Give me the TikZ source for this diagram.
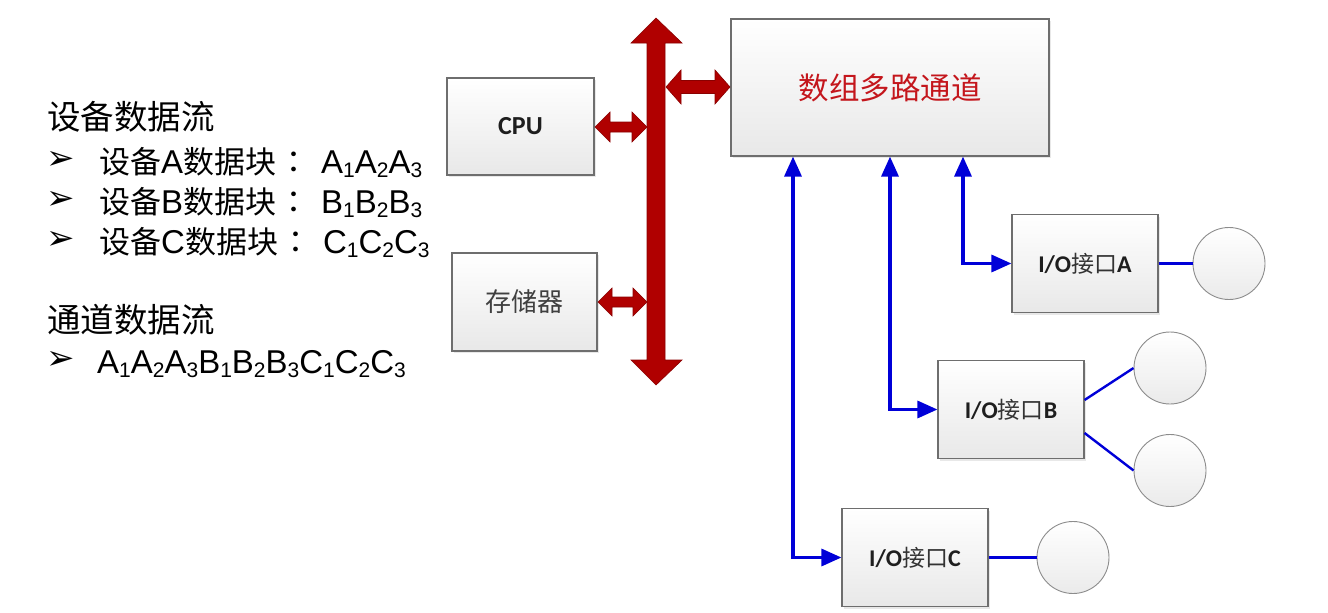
\documentclass[tikz,border=0pt]{standalone}
\usepackage{fontspec}
\setmainfont{Liberation Sans}
\newfontfamily\cjkf{Noto Sans CJK SC}
\newfontfamily\cjktc{Noto Sans CJK TC}
\newfontfamily\dvf{DejaVu Sans}
\newfontfamily\calf{Carlito}
\usetikzlibrary{arrows.meta,calc,shadows}
\definecolor{busred}{HTML}{B00000}
\definecolor{busedge}{HTML}{8A0000}
\definecolor{bblue}{HTML}{0000D8}
\definecolor{chred}{HTML}{C4161C}
\definecolor{boxedge}{HTML}{6E6E6E}
\definecolor{lbl}{HTML}{1E1E1E}
\newcommand\sbs[1]{\raisebox{-4pt}{\fontsize{21}{21}\selectfont #1}}
\newcommand\zh[1]{{\cjkf\fontsize{31}{31}\selectfont #1}}
\newcommand\colonsp{\makebox[36pt][c]{\cjktc\fontsize{31}{31}\selectfont ：}\hspace*{9pt}}
\newcommand\hdarrow[6]{% x1 x2 y shafthalf headhalf headlen
  \fill[busred,draw=busedge,line width=0.6pt]
    (#1,#3) -- (#1+#6,#3-#5) -- (#1+#6,#3-#4) -- (#2-#6,#3-#4) -- (#2-#6,#3-#5)
    -- (#2,#3) -- (#2-#6,#3+#5) -- (#2-#6,#3+#4) -- (#1+#6,#3+#4) -- (#1+#6,#3+#5) -- cycle;}
\tikzset{
  box/.style={draw=boxedge, line width=1.1pt, top color=white, bottom color=black!9,
    minimum width=#1, minimum height=98pt, inner sep=0pt,
    drop shadow={opacity=0.18, shadow xshift=2pt, shadow yshift=-2pt}},
  box/.default=146pt,
  dev/.style={circle, draw=black!45, line width=0.9pt, top color=white, bottom color=black!8,
    minimum size=72pt, inner sep=0pt},
  txt/.style={anchor=base west, inner sep=0pt, text=black},
  bul/.style={anchor=center, inner sep=0pt, font=\dvf\fontsize{34}{34}\selectfont},
  barrow/.style={draw=bblue, line width=3.2pt, {Triangle[length=20pt,width=17pt]}-{Triangle[length=20pt,width=17pt]}},
  bline/.style={draw=bblue, line width=2.4pt},
  iolbl/.style={font=\calf\bfseries\fontsize{24}{24}\selectfont, text=lbl}
}
\newcommand\iozh{{\cjkf\mdseries\fontsize{23}{23}\selectfont\color{black!80}接口}}
\begin{document}
\begin{tikzpicture}[x=1pt,y=-1pt]
\useasboundingbox (0,0) rectangle (1328,613);
% left texts
\node[txt, font=\cjkf\fontsize{33.5}{33.5}\selectfont] (h1) at (47,129) {设备数据流};
\node[bul] (b1) at (61,160) {➢};
\node[txt, font=\fontsize{33}{33}\selectfont] (l1) at (99,173) {\zh{设备}A\zh{数据块}\colonsp A\sbs{1}A\sbs{2}A\sbs{3}};
\node[bul] (b2) at (61,200) {➢};
\node[txt, font=\fontsize{33}{33}\selectfont] (l2) at (99,213) {\zh{设备}B\zh{数据块}\colonsp B\sbs{1}B\sbs{2}B\sbs{3}};
\node[bul] (b3) at (61,240) {➢};
\node[txt, font=\fontsize{33}{33}\selectfont] (l3) at (99,253) {\zh{设备}C\zh{数据块}\colonsp C\sbs{1}C\sbs{2}C\sbs{3}};
\node[txt, font=\cjkf\fontsize{33.5}{33.5}\selectfont] (h2) at (47,332) {通道数据流};
\node[bul] (b4) at (61,360) {➢};
\node[txt, font=\fontsize{33}{33}\selectfont] (l4) at (97,373) {A\sbs{1}A\sbs{2}A\sbs{3}B\sbs{1}B\sbs{2}B\sbs{3}C\sbs{1}C\sbs{2}C\sbs{3}};
% boxes
\node[box=147pt, minimum height=97pt] (cpu) at (520.5,126.5) {\calf\bfseries\fontsize{26}{26}\selectfont\color{lbl}CPU};
\node[box=145pt] (mem) at (524.5,302) {\cjkf\fontsize{26}{26}\selectfont\color{black!75}存储器};
\node[box=318pt, minimum height=137pt] (chan) at (890,87.5) {\cjkf\fontsize{30.5}{30.5}\selectfont\color{chred}数组多路通道};
\node[box, iolbl] (ioA) at (1085,263.5) {I/O\iozh A};
\node[box, iolbl] (ioB) at (1011,409.5) {I/O\iozh B};
\node[box, iolbl] (ioC) at (915,557.5) {I/O\iozh C};
% devices
\node[dev] (dA) at (1229,263.5) {};
\node[dev] (dB1) at (1170,368) {};
\node[dev] (dB2) at (1170,470.5) {};
\node[dev] (dC) at (1073,557.5) {};
% system bus
\coordinate (busT) at (656,18);
\coordinate (busB) at (656,385);
\fill[busred,draw=busedge,line width=0.6pt]
  (busT) -- ++(26,25) -- ++(-17,0) |- ($(busB)+(9,-25)$) -- ++(17,0) -- (busB)
  -- ++(-25,-25) -- ++(16,0) |- ($(busT)+(-9,25)$) -- ++(-16,0) -- cycle;
\hdarrow{595}{647}{127}{5}{15}{15}
\hdarrow{598}{647}{302}{5}{14}{14}
\hdarrow{666}{730}{87}{6.5}{17}{15}
% channel links
\coordinate (xA) at (963,0);
\coordinate (xB) at (890,0);
\coordinate (xC) at (793,0);
\draw[barrow] (chan.south -| xA) |- (ioA.west);
\draw[barrow] (chan.south -| xB) |- (ioB.west);
\draw[barrow] (chan.south -| xC) |- (ioC.west);
% device links
\draw[bline] (ioA.east) -- (dA.west);
\draw[bline] ($(ioB.east)+(0,-9.5)$) -- (dB1.west);
\draw[bline] ($(ioB.east)+(0,23.5)$) -- (dB2.west);
\draw[bline] (ioC.east) -- (dC.west);
\end{tikzpicture}
\end{document}
